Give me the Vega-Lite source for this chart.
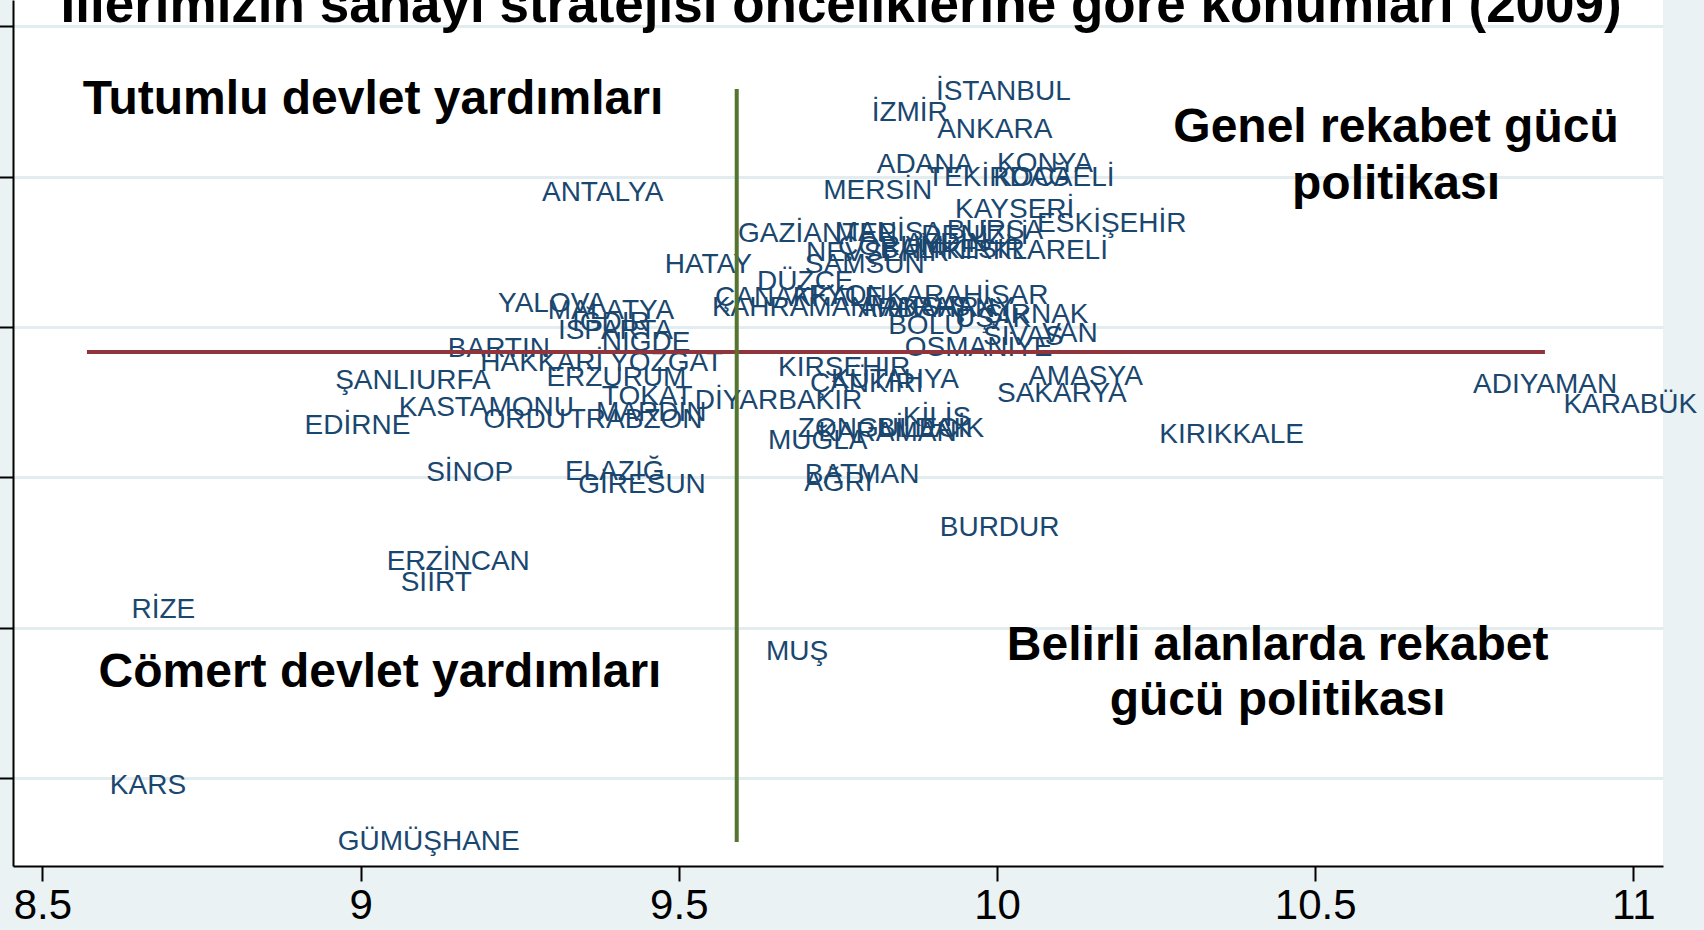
{
  "$schema": "https://vega.github.io/schema/vega-lite/v6.json",
  "width": 1650,
  "height": 866,
  "autosize": {"type": "none"},
  "padding": {"left": 13, "top": 0, "right": 41, "bottom": 64},
  "background": "#eaf2f3",
  "config": {
    "view": {"fill": "white", "stroke": null},
    "font": "Liberation Sans"
  },
  "layer": [
    {
      "data": {"values": [
        {"il": "İSTANBUL", "x": 9.904, "y": 4.577},
        {"il": "İZMİR", "x": 9.803, "y": 4.433},
        {"il": "ANKARA", "x": 9.906, "y": 4.323},
        {"il": "ADANA", "x": 9.811, "y": 4.090},
        {"il": "KONYA", "x": 10.000, "y": 4.094},
        {"il": "TEKİRDAĞ", "x": 9.890, "y": 4.001},
        {"il": "KOCAELİ", "x": 9.994, "y": 4.005},
        {"il": "MERSİN", "x": 9.727, "y": 3.912},
        {"il": "ANTALYA", "x": 9.285, "y": 3.899},
        {"il": "KAYSERİ", "x": 9.934, "y": 3.786},
        {"il": "ESKİŞEHİR", "x": 10.063, "y": 3.693},
        {"il": "GAZİANTEP", "x": 9.593, "y": 3.628},
        {"il": "MANİSA", "x": 9.745, "y": 3.639},
        {"il": "DENİZLİ", "x": 9.881, "y": 3.619},
        {"il": "BURSA", "x": 9.921, "y": 3.646},
        {"il": "AYDIN", "x": 9.855, "y": 3.560},
        {"il": "NEVŞEHİR", "x": 9.700, "y": 3.500},
        {"il": "ÇORUM", "x": 9.750, "y": 3.540},
        {"il": "BALIKESİR", "x": 9.816, "y": 3.520},
        {"il": "KIRKLARELİ", "x": 9.920, "y": 3.513},
        {"il": "SAMSUN", "x": 9.698, "y": 3.426},
        {"il": "HATAY", "x": 9.478, "y": 3.420},
        {"il": "DÜZCE", "x": 9.623, "y": 3.313},
        {"il": "ÇANAKKALE", "x": 9.557, "y": 3.202},
        {"il": "AFYONKARAHİSAR", "x": 9.675, "y": 3.214},
        {"il": "KAHRAMANMARAŞ", "x": 9.552, "y": 3.136},
        {"il": "AKSARAY", "x": 9.822, "y": 3.134},
        {"il": "ARDAHAN", "x": 9.782, "y": 3.127},
        {"il": "ŞIRNAK", "x": 9.980, "y": 3.087},
        {"il": "UŞAK", "x": 9.934, "y": 3.061},
        {"il": "BOLU", "x": 9.829, "y": 3.014},
        {"il": "SİVAS", "x": 9.978, "y": 2.947},
        {"il": "VAN", "x": 10.071, "y": 2.967},
        {"il": "OSMANİYE", "x": 9.855, "y": 2.870},
        {"il": "KIRŞEHİR", "x": 9.656, "y": 2.737},
        {"il": "KÜTAHYA", "x": 9.739, "y": 2.661},
        {"il": "ÇANKIRI", "x": 9.706, "y": 2.628},
        {"il": "AMASYA", "x": 10.049, "y": 2.675},
        {"il": "SAKARYA", "x": 10.000, "y": 2.568},
        {"il": "DİYARBAKIR", "x": 9.525, "y": 2.515},
        {"il": "KİLİS", "x": 9.852, "y": 2.404},
        {"il": "ZONGULDAK", "x": 9.687, "y": 2.335},
        {"il": "KARAMAN", "x": 9.719, "y": 2.304},
        {"il": "BİLECİK", "x": 9.811, "y": 2.329},
        {"il": "MUĞLA", "x": 9.640, "y": 2.249},
        {"il": "BATMAN", "x": 9.698, "y": 2.029},
        {"il": "AĞRI", "x": 9.697, "y": 1.971},
        {"il": "KIRIKKALE", "x": 10.255, "y": 2.291},
        {"il": "BURDUR", "x": 9.910, "y": 1.670},
        {"il": "MUŞ", "x": 9.637, "y": 0.845},
        {"il": "ADIYAMAN", "x": 10.748, "y": 2.626},
        {"il": "KARABÜK", "x": 10.890, "y": 2.493},
        {"il": "YALOVA", "x": 9.216, "y": 3.162},
        {"il": "MALATYA", "x": 9.294, "y": 3.120},
        {"il": "IĞDIR", "x": 9.332, "y": 3.036},
        {"il": "ISPARTA", "x": 9.310, "y": 2.981},
        {"il": "NİĞDE", "x": 9.379, "y": 2.903},
        {"il": "BARTIN", "x": 9.137, "y": 2.861},
        {"il": "HAKKARİ", "x": 9.188, "y": 2.770},
        {"il": "YOZGAT", "x": 9.392, "y": 2.770},
        {"il": "ERZURUM", "x": 9.292, "y": 2.670},
        {"il": "ŞANLIURFA", "x": 8.960, "y": 2.648},
        {"il": "TOKAT", "x": 9.379, "y": 2.548},
        {"il": "KASTAMONU", "x": 9.060, "y": 2.470},
        {"il": "MARDİN", "x": 9.370, "y": 2.437},
        {"il": "ORDU", "x": 9.193, "y": 2.389},
        {"il": "TRABZON", "x": 9.327, "y": 2.389},
        {"il": "EDİRNE", "x": 8.912, "y": 2.349},
        {"il": "SİNOP", "x": 9.103, "y": 2.038},
        {"il": "ELAZIĞ", "x": 9.321, "y": 2.045},
        {"il": "GİRESUN", "x": 9.342, "y": 1.956},
        {"il": "ERZİNCAN", "x": 9.041, "y": 1.444},
        {"il": "SİİRT", "x": 9.063, "y": 1.308},
        {"il": "RİZE", "x": 8.640, "y": 1.127},
        {"il": "KARS", "x": 8.606, "y": -0.044},
        {"il": "GÜMÜŞHANE", "x": 8.964, "y": -0.419}
      ]},
      "mark": {"type": "text", "align": "left", "baseline": "middle", "fontSize": 28, "dy": 1.5, "color": "#1a476f"},
      "encoding": {
        "x": {
          "field": "x", "type": "quantitative",
          "scale": {"domain": [8.4538, 11.0465], "nice": false, "zero": false},
          "axis": {
            "values": [8.5, 9, 9.5, 10, 10.5, 11],
            "format": "~g",
            "title": null, "grid": false,
            "domainColor": "black", "domainWidth": 2,
            "tickColor": "black", "tickWidth": 2, "tickSize": 15,
            "labelFontSize": 42, "labelColor": "black", "labelPadding": 4,
            "labelFont": "Liberation Sans"
          }
        },
        "y": {
          "field": "y", "type": "quantitative",
          "scale": {"domain": [-0.5855, 5.176], "nice": false, "zero": false},
          "axis": {
            "values": [0, 1, 2, 3, 4, 5],
            "title": null, "labels": false, "grid": true,
            "gridColor": "#e3ecef", "gridWidth": 3,
            "domainColor": "black", "domainWidth": 2,
            "tickColor": "black", "tickWidth": 2, "tickSize": 14
          }
        },
        "text": {"field": "il"}
      }
    },
    {
      "data": {"values": [{"x": 8.570, "x2": 10.861, "y": 2.834}]},
      "mark": {"type": "rule", "color": "#90353b", "strokeWidth": 4},
      "encoding": {
        "x": {"field": "x", "type": "quantitative"},
        "x2": {"field": "x2"},
        "y": {"field": "y", "type": "quantitative"}
      }
    },
    {
      "data": {"values": [{"x": 9.591, "y": 4.584, "y2": -0.426}]},
      "mark": {"type": "rule", "color": "#55752f", "strokeWidth": 4},
      "encoding": {
        "x": {"field": "x", "type": "quantitative"},
        "y": {"field": "y", "type": "quantitative"},
        "y2": {"field": "y2"}
      }
    },
    {
      "data": {"values": [
        {"t": "Tutumlu devlet yardımları", "x": 9.0195, "y": 4.418},
        {"t": "Genel rekabet gücü", "x": 10.627, "y": 4.232},
        {"t": "politikası", "x": 10.627, "y": 3.852},
        {"t": "Cömert devlet yardımları", "x": 9.0305, "y": 0.605},
        {"t": "Belirli alanlarda rekabet", "x": 10.441, "y": 0.788},
        {"t": "gücü politikası", "x": 10.441, "y": 0.419}
      ]},
      "mark": {"type": "text", "align": "center", "baseline": "alphabetic", "fontSize": 48, "fontWeight": "bold", "color": "black"},
      "encoding": {
        "x": {"field": "x", "type": "quantitative"},
        "y": {"field": "y", "type": "quantitative"},
        "text": {"field": "t"}
      }
    },
    {
      "data": {"values": [
        {"t": "İllerimizin sanayi stratejisi önceliklerine göre konumları (2009)", "x": 9.755, "y": 5.032}
      ]},
      "mark": {"type": "text", "align": "center", "baseline": "alphabetic", "fontSize": 53, "fontWeight": "bold", "color": "black"},
      "encoding": {
        "x": {"field": "x", "type": "quantitative"},
        "y": {"field": "y", "type": "quantitative"},
        "text": {"field": "t"}
      }
    }
  ]
}
